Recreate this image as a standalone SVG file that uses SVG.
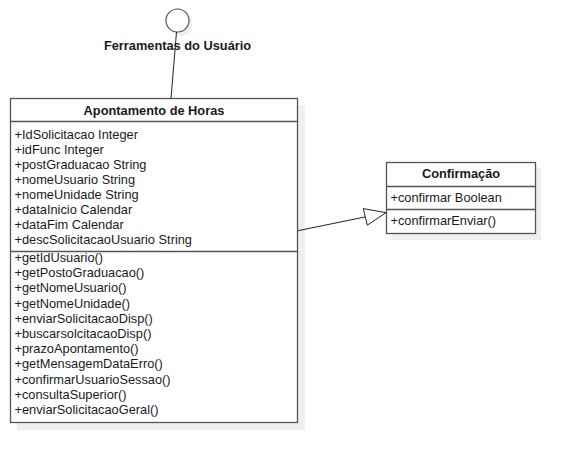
<svg xmlns="http://www.w3.org/2000/svg" width="575" height="463" viewBox="0 0 575 463">
<style>
.box{fill:#ffffff;stroke:#555555;stroke-width:1.3}
.shadow{fill:#efefef;stroke:none}
.sep{stroke:#555555;stroke-width:1.3}
.t{font-family:"Liberation Sans",Arial,sans-serif;font-size:12.8px;fill:#1a1a1a}
.b{font-weight:bold}
.conn{stroke:#222222;stroke-width:1;fill:none}
</style>
<rect width="575" height="463" fill="#ffffff"/>
<g id="interface-ferramentas">
<circle class="shadow" cx="181" cy="24" r="11.5"/>
<circle cx="177.5" cy="20.5" r="11.5" fill="#ffffff" stroke="#555555" stroke-width="1.2"/>
<text class="t b" x="177.5" y="50" text-anchor="middle">Ferramentas do Usuário</text>
</g>
<g id="apontamento-de-horas">
<rect class="shadow" x="17" y="105" width="288" height="325"/>
<rect class="box" x="10.5" y="98.5" width="287" height="324"/>
<line class="sep" x1="10.5" y1="121.5" x2="297.5" y2="121.5"/>
<line class="sep" x1="10.5" y1="251.5" x2="297.5" y2="251.5"/>
<text class="t b" x="154" y="115" text-anchor="middle">Apontamento de Horas</text>
<text class="t" x="14.5" y="138.5">+IdSolicitacao Integer</text>
<text class="t" x="14.5" y="153.5">+idFunc Integer</text>
<text class="t" x="14.5" y="168.5">+postGraduacao String</text>
<text class="t" x="14.5" y="183.5">+nomeUsuario String</text>
<text class="t" x="14.5" y="198.5">+nomeUnidade String</text>
<text class="t" x="14.5" y="213.5">+dataInicio Calendar</text>
<text class="t" x="14.5" y="228.5">+dataFim Calendar</text>
<text class="t" x="14.5" y="243.5">+descSolicitacaoUsuario String</text>
<text class="t" x="14.5" y="262">+getIdUsuario()</text>
<text class="t" x="14.5" y="277.2">+getPostoGraduacao()</text>
<text class="t" x="14.5" y="292.4">+getNomeUsuario()</text>
<text class="t" x="14.5" y="307.6">+getNomeUnidade()</text>
<text class="t" x="14.5" y="322.8">+enviarSolicitacaoDisp()</text>
<text class="t" x="14.5" y="338">+buscarsolcitacaoDisp()</text>
<text class="t" x="14.5" y="353.2">+prazoApontamento()</text>
<text class="t" x="14.5" y="368.4">+getMensagemDataErro()</text>
<text class="t" x="14.5" y="383.6">+confirmarUsuarioSessao()</text>
<text class="t" x="14.5" y="398.8">+consultaSuperior()</text>
<text class="t" x="14.5" y="414">+enviarSolicitacaoGeral()</text>
</g>
<g id="confirmacao">
<rect class="shadow" x="392" y="168" width="149" height="72"/>
<rect class="box" x="386.5" y="162.5" width="149" height="71"/>
<line class="sep" x1="386.5" y1="186.5" x2="535.5" y2="186.5"/>
<line class="sep" x1="386.5" y1="209.5" x2="535.5" y2="209.5"/>
<text class="t b" x="461" y="178" text-anchor="middle">Confirmação</text>
<text class="t" x="390.5" y="202">+confirmar Boolean</text>
<text class="t" x="390.5" y="225">+confirmarEnviar()</text>
</g>
<g id="connectors">
<line class="conn" x1="176.5" y1="32" x2="171" y2="98.5"/>
<line class="conn" x1="298" y1="230.7" x2="365.3" y2="216.9"/>
<polygon points="386,212.7 363.3,208.6 367.3,225.2" fill="#ffffff" stroke="#222222" stroke-width="1"/>
</g>
</svg>
